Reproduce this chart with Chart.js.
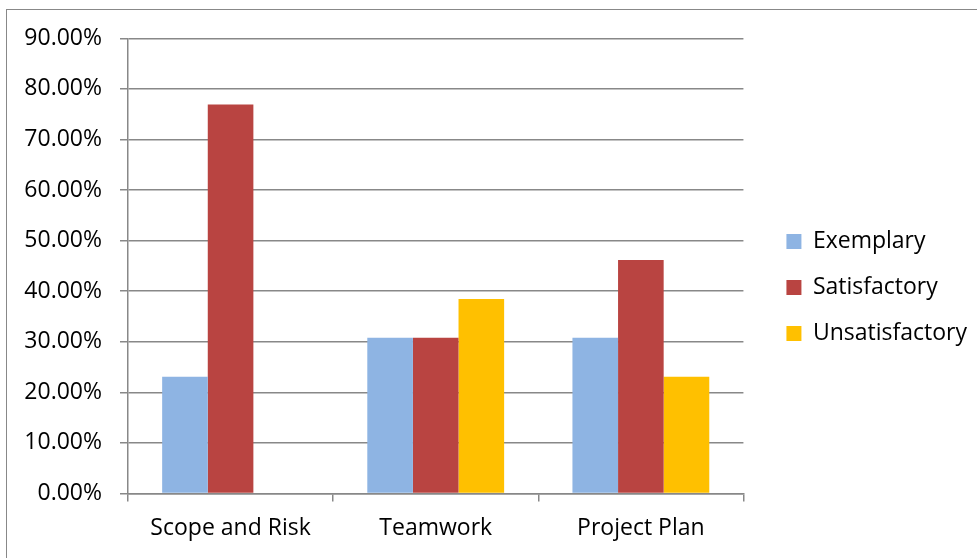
<!DOCTYPE html>
<html>
<head>
<meta charset="utf-8">
<script src="https://cdn.jsdelivr.net/npm/chart.js@4"></script>
<style>
  html, body { margin: 0; padding: 0; background: #fff; overflow: hidden; }
  #frame {
    position: absolute; left: 6px; top: 9px;
    width: 1000px; height: 600px;
    border: 1px solid #888;
  }
  #wrap { position: absolute; left: 7px; top: 10px; width: 970px; height: 548px; }
</style>
</head>
<body>
<div id="frame"></div>
<div id="wrap"><canvas id="myChart"></canvas></div>
<script>
const categories = ["Scope and Risk", "Teamwork", "Project Plan"];
const seriesNames = ["Exemplary", "Satisfactory", "Unsatisfactory"];
const exemplary = [23.08, 30.77, 30.77];
const satisfactory = [76.92, 30.77, 46.15];
const unsatisfactory = [0, 38.46, 23.08];
const colors = ["#8EB4E3", "#B94441", "#FFC000"];
const yMax = 90;
const yStep = 10;

const FONT = "'Open Sans', sans-serif";
Chart.defaults.font.family = FONT;
Chart.defaults.color = "#000";

const ctx = document.getElementById("myChart").getContext("2d");
new Chart(ctx, {
  type: "bar",
  data: {
    labels: categories,
    datasets: [exemplary, satisfactory, unsatisfactory].map((vals, i) => ({
      label: seriesNames[i],
      data: vals,
      backgroundColor: colors[i],
      barPercentage: 1,
      categoryPercentage: 0.667,
    })),
  },
  options: {
    responsive: true,
    maintainAspectRatio: false,
    animation: false,
    layout: { padding: { top: 10, bottom: 3, left: 0, right: 0 } },
    scales: {
      x: {
        grid: { drawOnChartArea: false, drawTicks: true, tickLength: 8, color: "#888", lineWidth: 1.5 },
        border: { color: "#888", width: 1.5 },
        ticks: { font: { size: 23 }, padding: 13 },
      },
      y: {
        min: 0,
        max: yMax,
        afterFit: (scale) => { scale.width = 121; },
        grid: { color: "#888", lineWidth: 1.5, tickLength: 8 },
        border: { color: "#888", width: 1.5 },
        ticks: {
          stepSize: yStep,
          font: { size: 23, lineHeight: 0.9 },
          padding: 18,
          callback: (v) => v.toFixed(2) + "%",
        },
      },
      // empty gap between plot and legend
      gap: {
        position: "right",
        display: true,
        grid: { display: false },
        border: { display: false },
        ticks: { display: false },
        afterFit: (scale) => { scale.width = 20; },
      },
    },
    plugins: {
      tooltip: { enabled: false },
      legend: {
        position: "right",
        maxWidth: 320,
        labels: {
          boxWidth: 15,
          boxHeight: 15,
          padding: 23,
          font: { size: 23 },
        },
      },
    },
  },
});
</script>
</body>
</html>
